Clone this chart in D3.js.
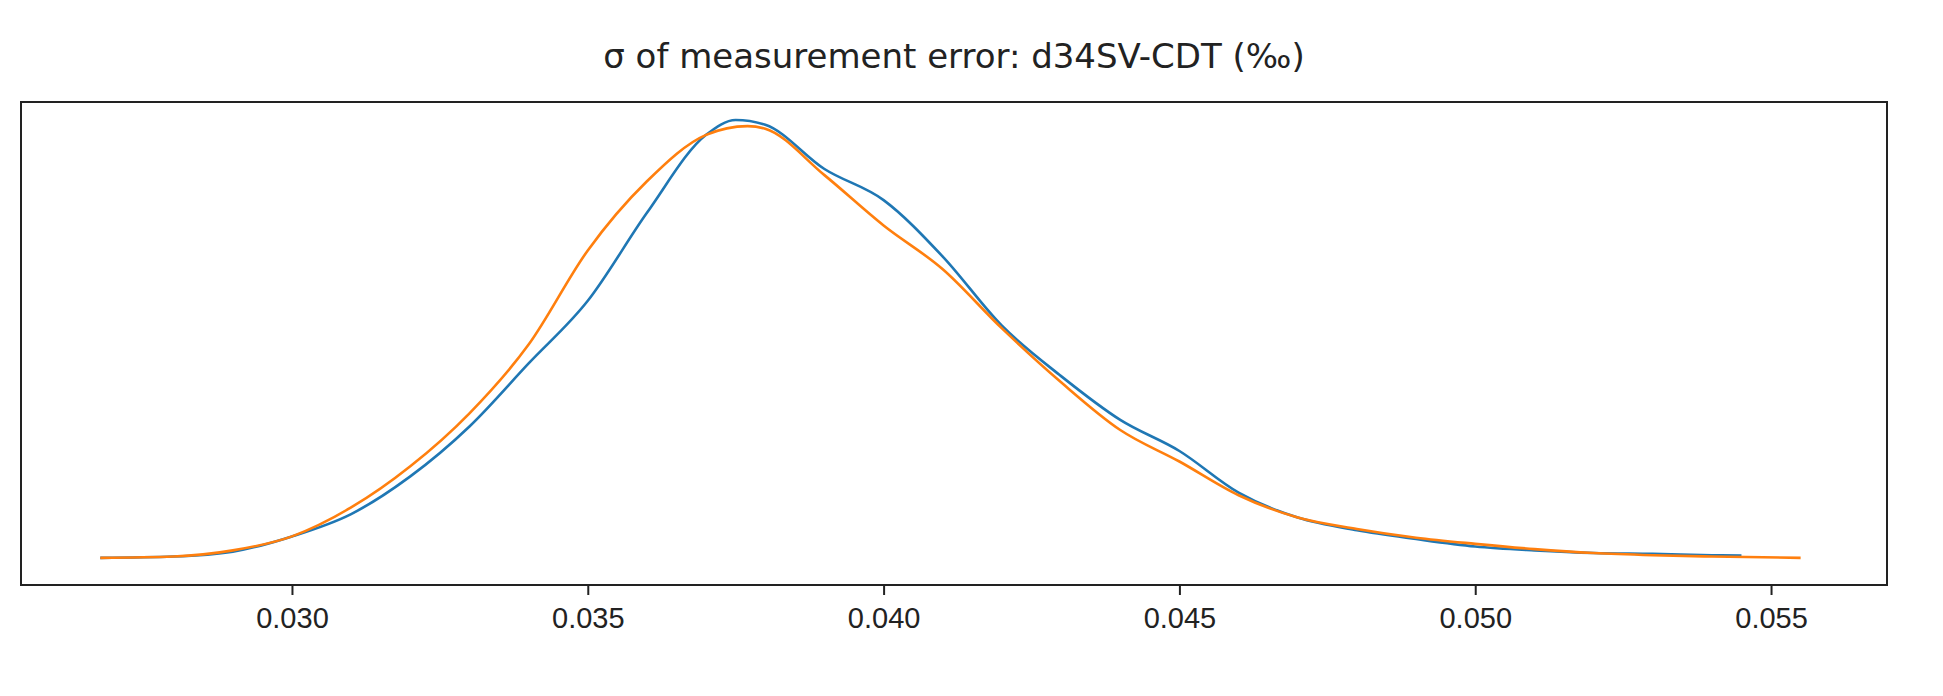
<!DOCTYPE html>
<html><head><meta charset="utf-8">
<script src="https://cdn.jsdelivr.net/npm/d3@7"></script>
<style>body{margin:0;background:#fff}svg{display:block;font-family:"DejaVu Sans",sans-serif}</style>
</head><body><svg id="chart" width="1943" height="696"></svg>
<script>
const title = 'σ of measurement error: d34SV-CDT (‰)';
const xTicks = [0.030, 0.035, 0.040, 0.045, 0.050, 0.055];
const blueX = [0.02676,0.028,0.029,0.030,0.031,0.032,0.033,0.034,0.035,0.036,0.037,0.0375,0.038,0.039,0.040,0.041,0.042,0.043,0.044,0.045,0.046,0.047,0.048,0.049,0.050,0.051,0.052,0.053,0.054,0.0545];
const blueY = [0,0.3,1.4,4.9,10,18.6,30,44.4,58.7,78.8,96.6,100,98.9,88.8,81.7,68.8,53,41.5,31.5,24.4,14.9,9.2,6.3,4.3,2.6,1.7,1.1,0.9,0.6,0.5];
const orangeX = [0.02676,0.028,0.029,0.030,0.031,0.032,0.033,0.034,0.035,0.036,0.037,0.0377,0.038,0.039,0.040,0.041,0.042,0.043,0.044,0.045,0.046,0.047,0.048,0.049,0.050,0.051,0.052,0.053,0.054,0.0555];
const orangeY = [0,0.3,1.7,4.9,11.5,20.9,33,48.7,70.2,86,96.6,98.6,98,87.4,75.9,65.9,52.4,40.1,29.2,22,14.3,9.2,6.6,4.6,3.2,2,1.1,0.6,0.3,0];

const svg = d3.select('#chart');
const plotL = 21, plotR = 1887, plotT = 102, plotB = 585;

const x = d3.scaleLinear().domain([0.02542, 0.05696]).range([plotL, plotR]);
const y = d3.scaleLinear().domain([-6.2, 104.1]).range([plotB, plotT]);

const line = d3.line().x(d => x(d[0])).y(d => y(d[1])).curve(d3.curveMonotoneX);

[[blueX, blueY, '#1f77b4'], [orangeX, orangeY, '#ff7f0e']].forEach(([xs, ys, c]) => {
    svg.append('path')
        .datum(xs.map((v, i) => [v, ys[i]]))
        .attr('d', line)
        .attr('fill', 'none')
        .attr('stroke', c)
        .attr('stroke-width', 2.6);
});

// Frame
svg.append('rect')
    .attr('x', plotL).attr('y', plotT)
    .attr('width', plotR - plotL).attr('height', plotB - plotT)
    .attr('fill', 'none').attr('stroke', '#222').attr('stroke-width', 2);

// Bottom axis
const ax = svg.append('g')
    .attr('transform', `translate(0,${plotB})`)
    .call(d3.axisBottom(x).tickValues(xTicks).tickFormat(d3.format('.3f')).tickSize(10).tickPadding(12));
ax.select('.domain').remove();
ax.selectAll('line').attr('stroke', '#222').attr('stroke-width', 2);
ax.selectAll('text').style('font-size', '29px').attr('fill', '#222');

svg.append('text')
    .attr('x', (plotL + plotR) / 2)
    .attr('y', 68)
    .attr('text-anchor', 'middle')
    .style('font-size', '34px')
    .attr('fill', '#222')
    .text(title);
</script></body></html>
